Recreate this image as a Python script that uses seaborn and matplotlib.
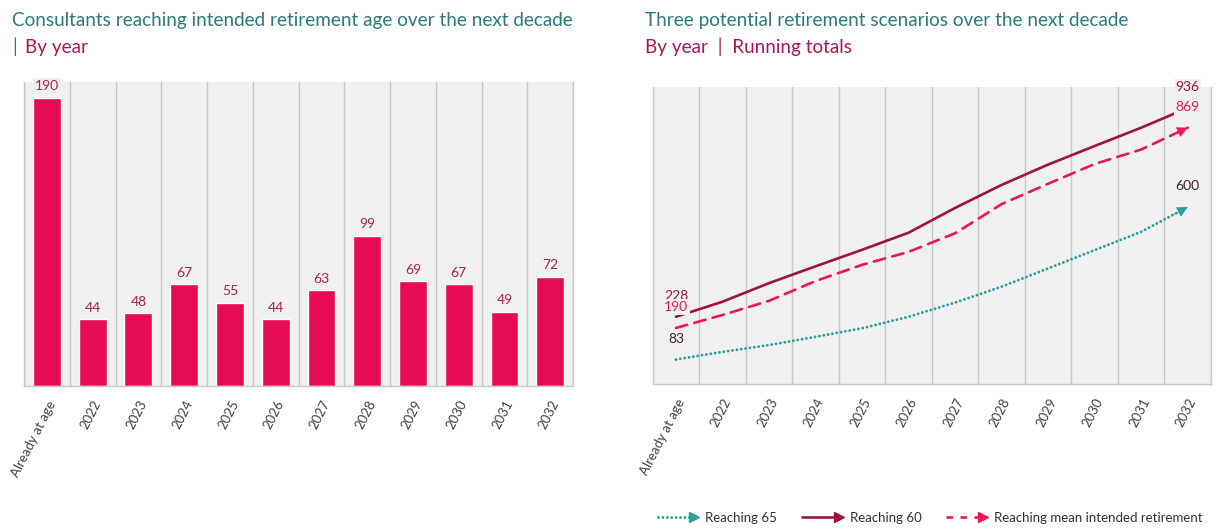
import matplotlib
matplotlib.use("Agg")
import matplotlib.pyplot as plt
from matplotlib.legend_handler import HandlerBase
from matplotlib.lines import Line2D
import numpy as np
import pandas as pd
import seaborn as sns

# data
categories = ["Already at age", "2022", "2023", "2024", "2025", "2026",
              "2027", "2028", "2029", "2030", "2031", "2032"]
by_year = [190, 44, 48, 67, 55, 44, 63, 99, 69, 67, 49, 72]
reaching_65 = [83, 109, 132, 160, 189, 228, 276, 330, 392, 454, 516, 600]
reaching_60 = [228, 279, 342, 399, 455, 513, 597, 675, 744, 807, 869, 936]
reaching_mean = [190, 234, 282, 349, 404, 448, 511, 610, 679, 746, 795, 869]
scenario_names = ["Reaching 65", "Reaching 60", "Reaching mean intended retirement"]

BAR = "#e50b54"
BAR_LABEL = "#a3214f"
TITLE = "#2b7a7a"
SUB = "#a8184c"
CRIMSON = "#9c1444"
PINK = "#e8175d"
TEAL = "#2a9f9a"
DARK = "#3a2230"
PANEL = "#f0f0f0"
GRID = "#c8c8c8"
TICK = "#404040"

sns.set_style("white")
plt.rcParams["font.family"] = ["Lato", "DejaVu Sans"]


class ArrowLegend(HandlerBase):
    # draws the legend line with an arrow head at its right end
    def create_artists(self, legend, orig_handle, xdescent, ydescent,
                       width, height, fontsize, trans):
        y = height / 2 - ydescent
        x0, x1 = -xdescent, width - xdescent
        line = Line2D([x0, x1 - 6], [y, y])
        line.update_from(orig_handle)
        line.set_marker("")
        line.set_transform(trans)
        head = Line2D([x1 - 4], [y], marker=">", markersize=7,
                      color=orig_handle.get_color(), linestyle="none")
        head.set_transform(trans)
        return [line, head]


def style_panel(ax):
    ax.set_facecolor(PANEL)
    ax.set_xlim(-0.5, len(categories) - 0.5)
    ax.set_xticks(range(len(categories)))
    ax.set_xticklabels(categories, rotation=63, ha="right",
                       rotation_mode="anchor", fontsize=9.5, color=TICK)
    ax.set_xticks(np.arange(-0.5, len(categories), 1), minor=True)
    ax.tick_params(axis="x", which="major", length=0, pad=9)
    ax.tick_params(axis="x", which="minor", length=4, color=GRID, width=1)
    ax.grid(axis="x", which="minor", color=GRID, lw=1)
    ax.grid(axis="x", which="major", visible=False)
    ax.set_yticks([])
    ax.set_xlabel("")
    ax.set_ylabel("")
    ax.spines["top"].set_visible(False)
    for s in ["left", "right", "bottom"]:
        ax.spines[s].set_color(GRID)
        ax.spines[s].set_linewidth(1)


fig = plt.figure(figsize=(12.15, 5.29), dpi=100)
ax1 = fig.add_axes([0.0198, 0.2703, 0.4519, 0.5747])
ax2 = fig.add_axes([0.5372, 0.2741, 0.4595, 0.562])

# left: bars by year
bars = pd.DataFrame({"category": categories, "count": by_year})
sns.barplot(data=bars, x="category", y="count", color=BAR, saturation=1,
            width=0.61, ax=ax1)
ax1.set_ylim(0, 200.5)
style_panel(ax1)
ax1.bar_label(ax1.containers[0], padding=4, color=BAR_LABEL, fontsize=10,
              bbox=dict(facecolor=PANEL, edgecolor="none", pad=1.5))

# right: running totals
lines = pd.DataFrame({
    "category": categories * 3,
    "pos": list(range(12)) * 3,
    "total": reaching_65 + reaching_60 + reaching_mean,
    "scenario": [scenario_names[0]] * 12 + [scenario_names[1]] * 12
    + [scenario_names[2]] * 12,
})
palette = {scenario_names[0]: TEAL, scenario_names[1]: CRIMSON,
           scenario_names[2]: PINK}
dashes = {scenario_names[0]: (0.01, 1.5), scenario_names[1]: "",
          scenario_names[2]: (4.4, 2.8)}
sns.lineplot(data=lines, x="pos", y="total", hue="scenario", style="scenario",
             palette=palette, dashes=dashes, linewidth=1.9, legend=False,
             ax=ax2)
for ln in ax2.lines:
    ln.set_dash_capstyle("round")
ax2.lines[0].set_linewidth(2.1)
ax2.set_ylim(0, 1008)
style_panel(ax2)

# arrow heads at the end of the 65 and mean lines
for series, col in [(reaching_mean, PINK), (reaching_65, TEAL)]:
    back = series[10] + 0.7 * (series[11] - series[10])
    ax2.annotate("", xy=(11, series[11]), xytext=(10.7, back),
                 arrowprops=dict(arrowstyle="-|>", color=col, lw=0.5,
                                 mutation_scale=17, shrinkA=0, shrinkB=0))

# start / end labels
for series, col in [(reaching_60, CRIMSON), (reaching_mean, PINK),
                    (reaching_65, DARK)]:
    for i in (0, 11):
        ax2.annotate(str(series[i]), xy=(i, series[i]), xytext=(0, 15),
                     textcoords="offset points", ha="center", va="center",
                     fontsize=10, color=col, annotation_clip=False,
                     bbox=dict(facecolor=PANEL, edgecolor="none", pad=1.2))

# titles
TSIZE = 13.6
fig.text(12 / 1215, 1 - 26 / 529, "Consultants reaching intended retirement age over the next decade",
         color=TITLE, fontsize=TSIZE, va="baseline")
fig.text(12 / 1215, 1 - 53 / 529, "|", color=TITLE, fontsize=TSIZE, va="baseline")
fig.text(25 / 1215, 1 - 53 / 529, "By year", color=SUB, fontsize=TSIZE, va="baseline")
fig.text(645 / 1215, 1 - 26 / 529, "Three potential retirement scenarios over the next decade",
         color=TITLE, fontsize=TSIZE, va="baseline")
fig.text(645 / 1215, 1 - 53 / 529, "By year  |  Running totals", color=SUB,
         fontsize=TSIZE, va="baseline")

# legend
handles = [
    Line2D([], [], color=TEAL, lw=2.1, dashes=(0.01, 1.5), dash_capstyle="round"),
    Line2D([], [], color=CRIMSON, lw=1.9),
    Line2D([], [], color=PINK, lw=1.9, dashes=(2.5, 2.8)),
]
fig.legend(handles, scenario_names, handler_map={Line2D: ArrowLegend()},
           loc="center", bbox_to_anchor=(930 / 1215, 1 - 518 / 529), ncol=3,
           frameon=False, fontsize=9.5, handlelength=3.2, columnspacing=1.9,
           handletextpad=0.4, labelcolor="#333333")

fig.savefig("out.png", dpi=100)
